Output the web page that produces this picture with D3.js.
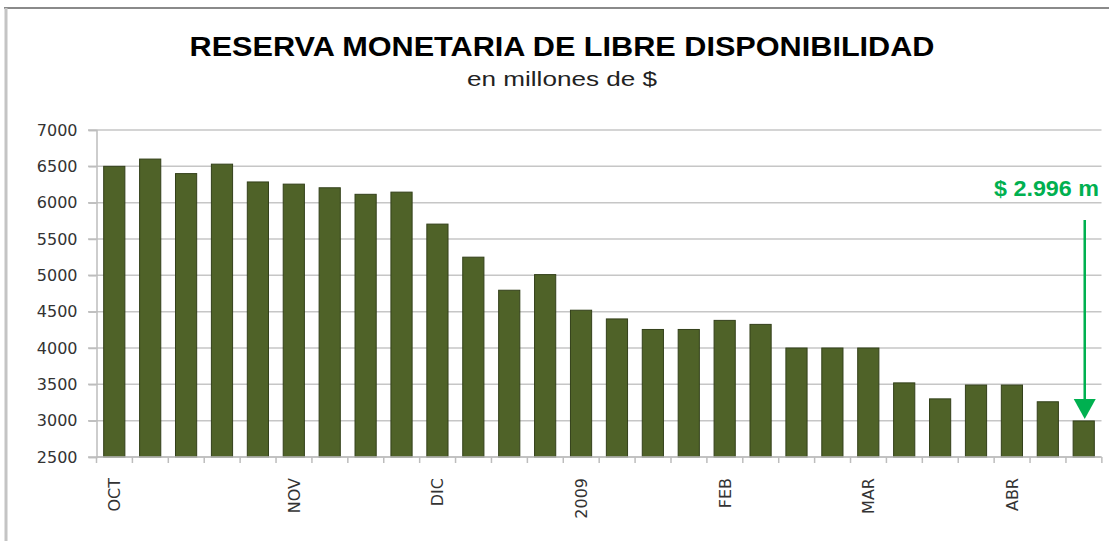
<!DOCTYPE html>
<html><head><meta charset="utf-8">
<script src="https://cdn.jsdelivr.net/npm/d3@7"></script>
<style>html,body{margin:0;padding:0;background:#fff;}svg{display:block;}</style>
</head><body><svg id="c" width="1109" height="541"></svg>
<script>
const values = [6500, 6600, 6400, 6530, 6285, 6255, 6205, 6115, 6145, 5705, 5250, 4795, 5010, 4520, 4400, 4255, 4255, 4380, 4325, 4000, 4000, 4000, 3520, 3300, 3490, 3490, 3260, 2996];
const tickLabels = ["OCT","","","","","NOV","","","","DIC","","","","2009","","","","FEB","","","","MAR","","","","ABR","",""];
const yTicks = [2500, 3000, 3500, 4000, 4500, 5000, 5500, 6000, 6500, 7000];
const titleText = "RESERVA MONETARIA DE LIBRE DISPONIBILIDAD";
const subtitleText = "en millones de $";
const annotationText = "$ 2.996 m";

const svg = d3.select("#c");
const m = {left: 96.5, right: 1101.5, top: 130, bottom: 457};
const x = d3.scaleBand().domain(d3.range(values.length)).range([m.left, m.right]).paddingInner(0.41).paddingOuter(0.2);
const y = d3.scaleLinear().domain([2500, 7000]).range([m.bottom, m.top]);

// frame
svg.append("line").attr("x1", 4).attr("x2", 1109).attr("y1", 8).attr("y2", 8).attr("stroke", "#8a8a8a").attr("stroke-width", 2);
svg.append("line").attr("x1", 6).attr("x2", 6).attr("y1", 8).attr("y2", 541).attr("stroke", "#c4c4c4").attr("stroke-width", 3);

// titles
svg.append("text").attr("x", 562).attr("y", 56).attr("text-anchor", "middle")
  .attr("font-family", "Liberation Sans, Arial, sans-serif").attr("font-weight", "bold").attr("font-size", 27)
  .attr("textLength", 745).attr("lengthAdjust", "spacingAndGlyphs").attr("fill", "#000").text(titleText);
svg.append("text").attr("x", 562).attr("y", 86).attr("text-anchor", "middle")
  .attr("font-family", "Liberation Sans, Arial, sans-serif").attr("font-size", 20)
  .attr("textLength", 190).attr("lengthAdjust", "spacingAndGlyphs").attr("fill", "#222").text(subtitleText);

// gridlines
svg.append("g").selectAll("line").data(yTicks).join("line")
  .attr("x1", 88).attr("x2", m.right).attr("y1", d => y(d)).attr("y2", d => y(d))
  .attr("stroke", "#c6c6c6").attr("stroke-width", 1.5);

// y axis
const ya = svg.append("g").attr("transform", `translate(${m.left},0)`)
  .call(d3.axisLeft(y).tickValues(yTicks).tickSize(8).tickPadding(11).tickFormat(d3.format("d")));
ya.select(".domain").attr("stroke", "#bdbdbd").attr("stroke-width", 1.5);
ya.selectAll(".tick line").attr("stroke", "#bdbdbd").attr("stroke-width", 1.5);
ya.selectAll("text").attr("font-family", "DejaVu Sans, sans-serif").attr("font-size", 16).attr("fill", "#333");

// bars
svg.append("g").selectAll("rect").data(values).join("rect")
  .attr("x", (d, i) => x(i)).attr("width", x.bandwidth())
  .attr("y", d => y(d)).attr("height", d => y(2500) - y(d))
  .attr("fill", "#4f6228").attr("stroke", "#33401a").attr("stroke-width", 1);

// x axis
const step = x.step();
const xa = svg.append("g").attr("transform", `translate(0,${m.bottom})`);
xa.append("line").attr("x1", m.left).attr("x2", m.right).attr("stroke", "#bdbdbd").attr("stroke-width", 1.5);
xa.selectAll("line.t").data(d3.range(values.length + 1)).join("line").attr("class", "t")
  .attr("x1", i => m.left + i * step).attr("x2", i => m.left + i * step)
  .attr("y1", 0).attr("y2", 6).attr("stroke", "#bdbdbd").attr("stroke-width", 1.5);
xa.selectAll("text").data(tickLabels.map((t, i) => ({t, i})).filter(d => d.t)).join("text")
  .attr("transform", d => `translate(${x(d.i) + x.bandwidth() / 2 + 6},21) rotate(-90)`)
  .attr("text-anchor", "end").attr("font-family", "DejaVu Sans, sans-serif").attr("font-size", 16).attr("fill", "#333")
  .text(d => d.t);

// annotation
const last = values.length - 1;
const ax = x(last) + x.bandwidth() / 2 + 1;
const green = "#00b050";
svg.append("text").attr("x", 1099).attr("y", 196).attr("text-anchor", "end")
  .attr("font-family", "Liberation Sans, Arial, sans-serif").attr("font-weight", "bold").attr("font-size", 22)
  .attr("textLength", 105).attr("lengthAdjust", "spacingAndGlyphs")
  .attr("fill", green).text(annotationText);
svg.append("line").attr("x1", ax).attr("x2", ax).attr("y1", 220).attr("y2", y(values[last]) - 18)
  .attr("stroke", green).attr("stroke-width", 2.5);
const tipY = y(values[last]) - 2;
svg.append("path").attr("d", `M${ax - 11},${tipY - 20}L${ax + 11},${tipY - 20}L${ax},${tipY}Z`).attr("fill", green);
</script></body></html>
